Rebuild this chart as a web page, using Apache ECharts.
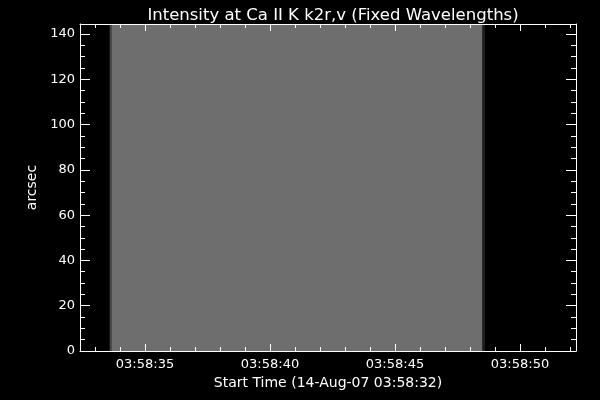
<!DOCTYPE html>
<html>
<head>
<meta charset="utf-8">
<script src="https://cdn.jsdelivr.net/npm/echarts@6/dist/echarts.min.js"></script>
<style>
html,body{margin:0;padding:0;background:#000;}
#c{width:600px;height:400px;}
</style>
</head>
<body>
<div id="c"></div>
<script>
// ---- data (seconds after 03:58:00) ----
const colStart = [33.59, 33.68, 48.50];
const colEnd   = [33.68, 48.50, 48.60];
const colLevel = [72, 110, 30];           // intensity (0-255 gray)
const xRange = [32.4, 52.24];
const yRange = [0, 144.4];
const timeTicks = [35, 40, 45, 50];
const timeLabels = ['03:58:35', '03:58:40', '03:58:45', '03:58:50'];
const timeMinor = [33,34,36,37,38,39,41,42,43,44,46,47,48,49,51,52];
const yTicks = [0, 20, 40, 60, 80, 100, 120, 140];
const yMinor = [5,10,15,25,30,35,45,50,55,65,70,75,85,90,95,105,110,115,125,130,135];

const title = 'Intensity at Ca II K k2r,v (Fixed Wavelengths)';
const xName = 'Start Time (14-Aug-07 03:58:32)';
const yName = 'arcsec';

const cols = colStart.map((s, i) => [s, colEnd[i], colLevel[i]]);

const FONT = 'DejaVu Sans';
const WHITE = '#ffffff';

function xAx(pos, major, labels) {
  return {
    type: 'value', min: xRange[0], max: xRange[1], position: pos, z: 5,
    axisLine: { show: major, onZero: false, lineStyle: { color: WHITE, width: 1 } },
    axisTick: { show: true, inside: true, length: major ? 7 : 4,
      customValues: major ? timeTicks : timeMinor, lineStyle: { color: WHITE, width: 1 } },
    axisLabel: labels ? { show: true, customValues: timeTicks, color: WHITE,
      fontFamily: FONT, fontSize: 13, margin: 7,
      formatter: v => timeLabels[timeTicks.indexOf(v)] } : { show: false },
    splitLine: { show: false },
    name: labels ? xName : '', nameLocation: 'middle', nameGap: 24,
    nameTextStyle: { color: WHITE, fontFamily: FONT, fontSize: 14 }
  };
}
function yAx(pos, major, labels) {
  return {
    type: 'value', min: yRange[0], max: yRange[1], position: pos, z: 5,
    axisLine: { show: major, onZero: false, lineStyle: { color: WHITE, width: 1 } },
    axisTick: { show: true, inside: true, length: major ? 10 : 5,
      customValues: major ? yTicks : yMinor, lineStyle: { color: WHITE, width: 1 } },
    axisLabel: labels ? { show: true, customValues: yTicks, color: WHITE,
      fontFamily: FONT, fontSize: 13, margin: 5 } : { show: false },
    splitLine: { show: false },
    name: labels ? yName : '', nameLocation: 'middle', nameGap: 39,
    nameTextStyle: { color: WHITE, fontFamily: FONT, fontSize: 14 }
  };
}

const chart = echarts.init(document.getElementById('c'), null, { renderer: 'canvas' });
chart.setOption({
  backgroundColor: '#000',
  animation: false,
  title: {
    text: title, left: 328, top: 2, textAlign: 'center',
    textStyle: { color: WHITE, fontFamily: FONT, fontSize: 16.5, fontWeight: 'normal' }
  },
  grid: { left: 80, right: 24, top: 24, bottom: 49, containLabel: false },
  xAxis: [xAx('bottom', true, true), xAx('bottom', false, false), xAx('top', true, false), xAx('top', false, false)],
  yAxis: [yAx('left', true, true), yAx('left', false, false), yAx('right', true, false), yAx('right', false, false)],
  visualMap: {
    show: false, type: 'continuous', min: 0, max: 255, dimension: 2, seriesIndex: 0,
    inRange: { color: ['#000000', '#ffffff'] }
  },
  series: [{
    type: 'custom',
    xAxisIndex: 0, yAxisIndex: 0,
    data: cols,
    encode: { x: [0, 1] },
    clip: true,
    renderItem: function (params, api) {
      const p0 = api.coord([api.value(0), yRange[1]]);
      const p1 = api.coord([api.value(1), yRange[0]]);
      return {
        type: 'rect',
        shape: { x: p0[0], y: p0[1], width: p1[0] - p0[0], height: p1[1] - p0[1] },
        style: { fill: api.visual('color') }
      };
    },
    z: 1
  }]
});
</script>
</body>
</html>
